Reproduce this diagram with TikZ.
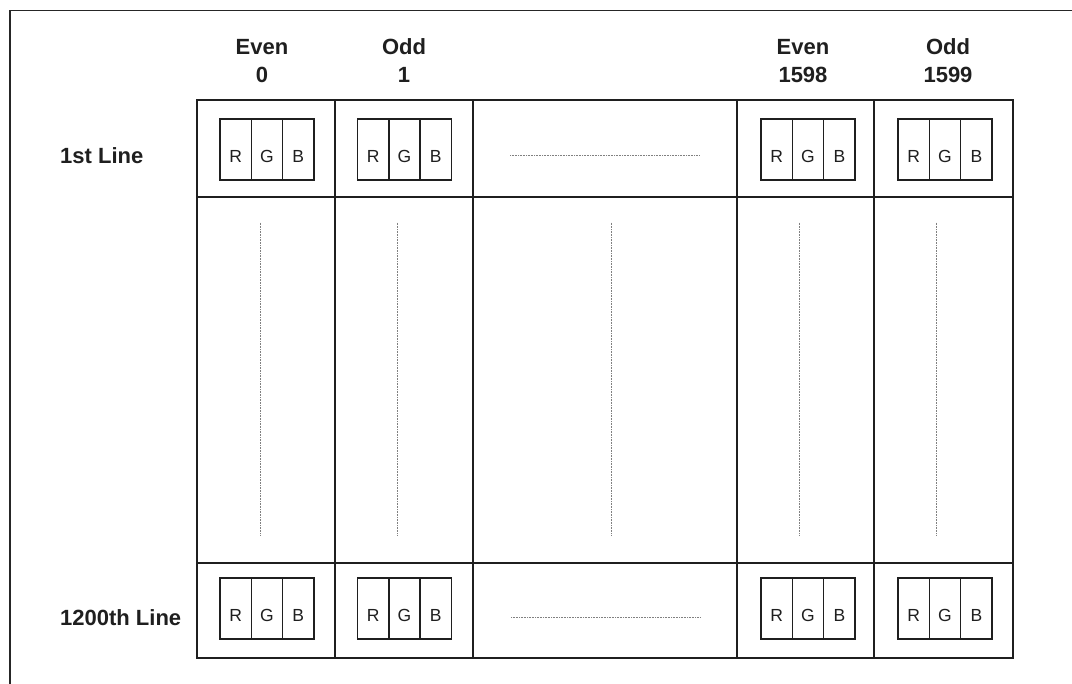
\documentclass[tikz,border=0pt]{standalone}
\usepackage{fontspec}
\setmainfont{Liberation Sans}
\begin{document}
\begin{tikzpicture}[x=1pt,y=-1pt,
  gridline/.style={draw=black!88, line width=1.5pt},
  frameline/.style={draw=black!85, line width=1.3pt},
  rgbbox/.style={draw=black!88, line width=1.5pt, minimum width=31.33pt, minimum height=61pt, inner sep=0pt},
  rgbtxt/.style={font=\fontsize{17.5}{17.5}\selectfont, anchor=base, text=black!88, inner sep=0pt},
  hdr/.style={font=\fontsize{22}{22}\selectfont\bfseries, anchor=base, text=black!88, inner sep=0pt},
  dotline/.style={draw=black!50, line width=0.9pt, dash pattern=on 1pt off 0.6pt}]
\useasboundingbox (0,0) rectangle (1072,684);
\fill[white] (0,0) rectangle (1072,684);
% outer frame (clipped at right and bottom)
\draw[frameline] (10,684) -- (10,10.7) -- (1072,10.7);
% grid
\draw[gridline] (197,100) rectangle (1013,658);
\draw[gridline] (197,197) -- (1013,197);
\draw[gridline] (197,563) -- (1013,563);
\foreach \x in {335,473,737,874} \draw[gridline] (\x,100) -- (\x,658);
% headers
\foreach \x/\a/\b/\n in {262/Even/0/h0, 404/Odd/1/h1, 803/Even/1598/h2, 948/Odd/1599/h3} {
  \node[hdr] (\n a) at (\x,55) {\a};
  \node[hdr] (\n b) at (\x,83) {\b};
}
\node[hdr, anchor=base west] (l1) at (60,164) {1st Line};
\node[hdr, anchor=base west] (l2) at (60,626) {1200th Line};
% RGB boxes
\foreach \cx/\n in {267/a,404.5/b,808/c,945/d} {
  \foreach \cy/\r in {149.5/t,608.5/u} {
    \foreach \l/\dx in {R/-31.33,G/0,B/31.33} {
      \node[rgbbox] (\n\r\l) at (\cx+\dx,\cy) {};
      \node[rgbtxt] (\n\r\l txt) at ([yshift=-44.5pt]\n\r\l.north) {\l};
    }
  }
}
% dotted continuation lines
\coordinate (ht1) at (510,155); \coordinate (ht2) at (700,155);
\coordinate (hb1) at (511,617); \coordinate (hb2) at (700,617);
\draw[dotline] (ht1) -- (ht2);
\draw[dotline] (hb1) -- (hb2);
\foreach \x [count=\i] in {260.7,397.7,611,799.3,936.7} {
  \coordinate (vt\i) at (\x,222.7);
  \coordinate (vb\i) at (\x,535);
  \draw[dotline] (vt\i) -- (vb\i);
}
\end{tikzpicture}
\end{document}
